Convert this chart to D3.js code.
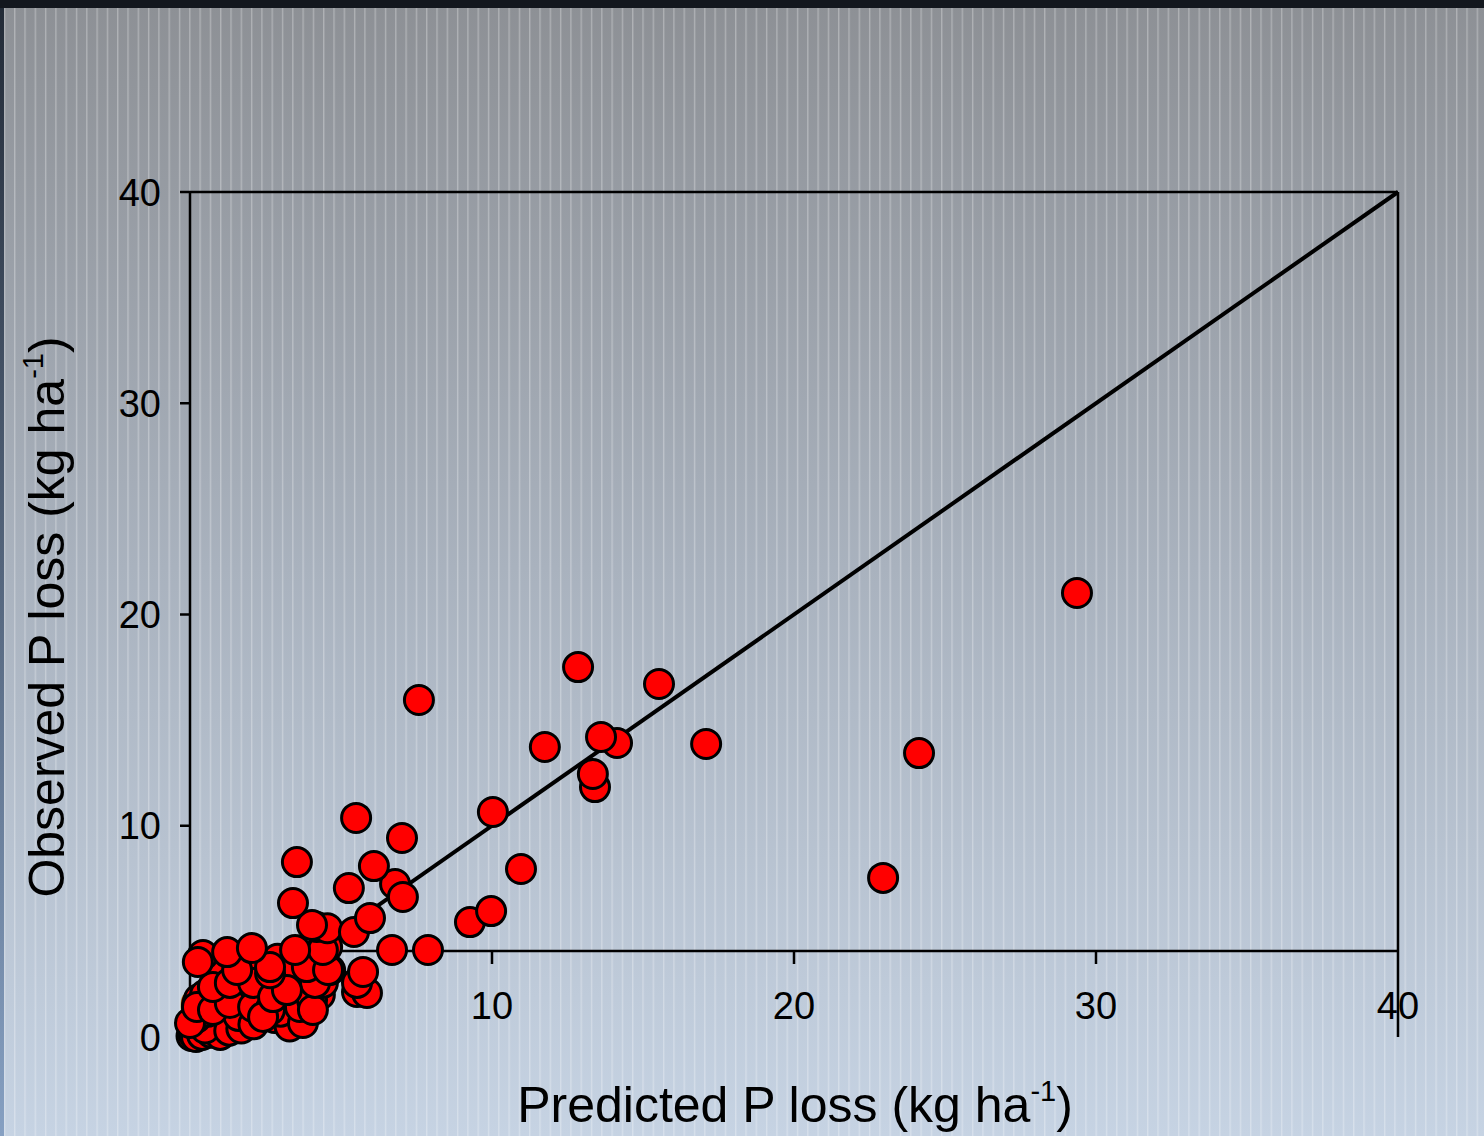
<!DOCTYPE html>
<html>
<head>
<meta charset="utf-8">
<script src="https://cdn.jsdelivr.net/npm/d3@7"></script>
<style>
  html, body { margin: 0; padding: 0; background: #13171e; }
  svg { display: block; }
  text { font-family: "Liberation Sans", Arial, sans-serif; fill: #000; }
</style>
</head>
<body>
<div id="chart"></div>
<script>
// axis ticks
const xTicks = [0, 10, 20, 30, 40];
const yTicks = [0, 10, 20, 30, 40];

// predicted vs observed P loss (kg/ha)
const predicted = [
  0.05, 0.10, 0.15, 0.20, 0.30, 0.35, 0.45, 0.50, 0.60, 0.70, 0.80, 0.90, 1.00, 1.10, 1.20, 1.40,
  1.50, 1.70, 1.80, 2.00, 2.20, 2.40, 0.10, 0.25, 0.40, 0.60, 0.90, 1.00, 1.30, 1.80, 2.20, 2.60,
  2.90, 3.10, 3.60, 3.90, 4.20,
  0.20, 0.40, 0.70, 1.00, 0.20, 0.50, 1.30, 1.70, 0.20, 0.60, 1.60, 2.10, 2.80, 3.30, 0.30, 0.50,
  1.20, 1.90, 2.50, 3.00, 3.50, 4.30, 0.90, 1.60, 2.30, 2.90, 3.30,
  0.00, 0.23, 0.76, 1.32, 2.09, 2.65, 0.76, 1.32, 2.09, 1.56, 3.21, 3.97, 3.74, 2.42, 2.75, 3.64,
  4.04, 4.07, 4.40, 4.14, 3.21, 3.87, 2.65, 2.65, 4.64, 4.57, 4.54, 4.40, 3.48, 5.53, 5.86, 5.53,
  5.73, 0.43, 0.26, 1.23, 2.05,
  4.20, 4.55, 4.04, 5.43, 5.96, 3.41, 5.26, 6.79, 7.05, 6.09, 3.54, 5.50, 7.02, 6.69, 7.88, 9.27,
  9.97, 10.96, 10.03, 7.58, 11.75, 13.41, 13.34, 14.14, 13.61, 12.85, 15.53, 17.09, 22.95, 24.14, 29.37
];
const observed = [
  0.05, 0.20, 0.10, 0.40, 0.25, 0.60, 0.30, 0.80, 0.50, 0.90, 0.40, 1.00, 0.70, 1.20, 0.50, 0.90,
  1.30, 0.80, 1.50, 1.10, 0.80, 1.30, 0.70, 1.00, 1.50, 1.90, 2.20, 2.80, 3.50, 3.00, 2.20, 2.50,
  2.00, 3.40, 2.90, 3.60, 3.90,
  0.00, 0.10, 0.20, 0.10, 0.90, 0.40, 0.30, 0.40, 0.90, 1.20, 1.00, 0.60, 0.90, 0.50, 1.80, 2.00,
  2.00, 2.40, 1.70, 1.20, 2.30, 2.00, 3.30, 3.80, 3.60, 3.70, 3.00,
  0.66, 1.42, 1.28, 1.61, 1.42, 1.28, 2.37, 2.56, 2.56, 3.17, 2.08, 1.89, 0.66, 0.95, 1.89, 1.42,
  1.75, 1.28, 2.56, 2.56, 2.22, 3.31, 3.02, 3.31, 3.17, 3.17, 4.26, 4.12, 4.12, 2.13, 2.08, 2.56,
  3.08, 3.88, 3.55, 4.02, 4.21,
  5.21, 5.15, 5.30, 4.97, 5.63, 6.34, 7.05, 7.24, 6.63, 8.09, 8.28, 10.37, 9.42, 4.12, 4.12, 5.44,
  5.96, 7.95, 10.65, 15.95, 13.73, 11.83, 12.45, 13.92, 14.20, 17.51, 16.71, 13.87, 7.53, 13.44, 21.02
];
const points = predicted.map((p, i) => ({ p: p, o: observed[i] }));

const width = 1484;
const height = 1136;
const plot = { left: 190, right: 1398, top: 192, bottom: 1037 };

const svg = d3.select('#chart')
  .append('svg')
  .attr('width', width)
  .attr('height', height);

// background: grey to pale blue, with thin vertical light stripes
const defs = svg.append('defs');
const grad = defs.append('linearGradient')
  .attr('id', 'bg').attr('x1', 0).attr('y1', 0).attr('x2', 0).attr('y2', 1);
grad.append('stop').attr('offset', '0%').attr('stop-color', '#8d9095');
grad.append('stop').attr('offset', '50%').attr('stop-color', '#a9b2be');
grad.append('stop').attr('offset', '100%').attr('stop-color', '#c6d3e3');

const edge = defs.append('linearGradient')
  .attr('id', 'edge').attr('x1', 0).attr('y1', 0).attr('x2', 0).attr('y2', 1);
edge.append('stop').attr('offset', '0%').attr('stop-color', '#222a36');
edge.append('stop').attr('offset', '100%').attr('stop-color', '#86a0c2');

const stripes = defs.append('pattern')
  .attr('id', 'stripes')
  .attr('patternUnits', 'userSpaceOnUse')
  .attr('width', 10.3).attr('height', 4);
stripes.append('rect')
  .attr('x', 4).attr('y', 0).attr('width', 1).attr('height', 4)
  .attr('fill', '#fff').attr('opacity', 0.4);

svg.append('rect').attr('width', width).attr('height', height).attr('fill', 'url(#bg)');
svg.append('rect').attr('width', width).attr('height', height).attr('fill', 'url(#stripes)');
svg.append('rect').attr('x', 0).attr('y', 0).attr('width', 4).attr('height', height).attr('fill', 'url(#edge)');
svg.append('rect').attr('x', 0).attr('y', 0).attr('width', width).attr('height', 8).attr('fill', '#13171e');

// scales
const x = d3.scaleLinear().domain([0, 40]).range([plot.left, plot.right]);
const y = d3.scaleLinear().domain([0, 40]).range([plot.bottom, plot.top]);

const frame = svg.append('g')
  .attr('stroke', '#000')
  .attr('stroke-width', 2.5)
  .attr('fill', 'none');

// left axis line and top / right frame
frame.append('line').attr('x1', x(0)).attr('x2', x(0)).attr('y1', y(40)).attr('y2', y(0));
frame.append('line').attr('x1', x(0)).attr('x2', x(40)).attr('y1', y(40)).attr('y2', y(40));
frame.append('line').attr('x1', x(40)).attr('x2', x(40)).attr('y1', y(40)).attr('y2', y(0));

// x axis crosses the y axis a little above zero, as in the original figure
const xAxisY = y(4.07);
frame.append('line').attr('x1', x(0)).attr('x2', x(40)).attr('y1', xAxisY).attr('y2', xAxisY);

// y ticks (outward, left)
frame.selectAll('.ytick')
  .data(yTicks)
  .enter()
  .append('line')
  .attr('x1', x(0) - 10).attr('x2', x(0))
  .attr('y1', d => y(d)).attr('y2', d => y(d));

svg.selectAll('.ylab')
  .data(yTicks)
  .enter()
  .append('text')
  .attr('x', 161)
  .attr('y', d => y(d))
  .attr('dy', '0.36em')
  .attr('text-anchor', 'end')
  .attr('font-size', 38)
  .text(d => d);

// x ticks (down from the x axis line)
frame.selectAll('.xtick')
  .data(xTicks.filter(d => d > 0 && d < 40))
  .enter()
  .append('line')
  .attr('x1', d => x(d)).attr('x2', d => x(d))
  .attr('y1', xAxisY).attr('y2', xAxisY + 13);

svg.selectAll('.xlab')
  .data(xTicks)
  .enter()
  .append('text')
  .attr('x', d => x(d))
  .attr('y', 1019)
  .attr('text-anchor', 'middle')
  .attr('font-size', 38)
  .text(d => d);

// 1:1 line
svg.append('line')
  .attr('x1', x(0)).attr('y1', y(0))
  .attr('x2', x(40)).attr('y2', y(40))
  .attr('stroke', '#000')
  .attr('stroke-width', 4);

// points
svg.append('g')
  .selectAll('circle')
  .data(points)
  .enter()
  .append('circle')
  .attr('cx', d => x(d.p))
  .attr('cy', d => y(d.o))
  .attr('r', 14.5)
  .attr('fill', '#ff0000')
  .attr('stroke', '#000')
  .attr('stroke-width', 3);

// axis titles
const xTitle = svg.append('text')
  .attr('x', 795)
  .attr('y', 1122)
  .attr('text-anchor', 'middle')
  .attr('font-size', 50);
xTitle.append('tspan').text('Predicted P loss (kg ha');
xTitle.append('tspan').attr('font-size', 29).attr('dy', -21).text('-1');
xTitle.append('tspan').attr('dy', 21).text(')');

const yTitle = svg.append('text')
  .attr('transform', 'translate(64,617) rotate(-90)')
  .attr('text-anchor', 'middle')
  .attr('font-size', 50);
yTitle.append('tspan').text('Observed P loss (kg ha');
yTitle.append('tspan').attr('font-size', 29).attr('dy', -21).text('-1');
yTitle.append('tspan').attr('dy', 21).text(')');
</script>
</body>
</html>
